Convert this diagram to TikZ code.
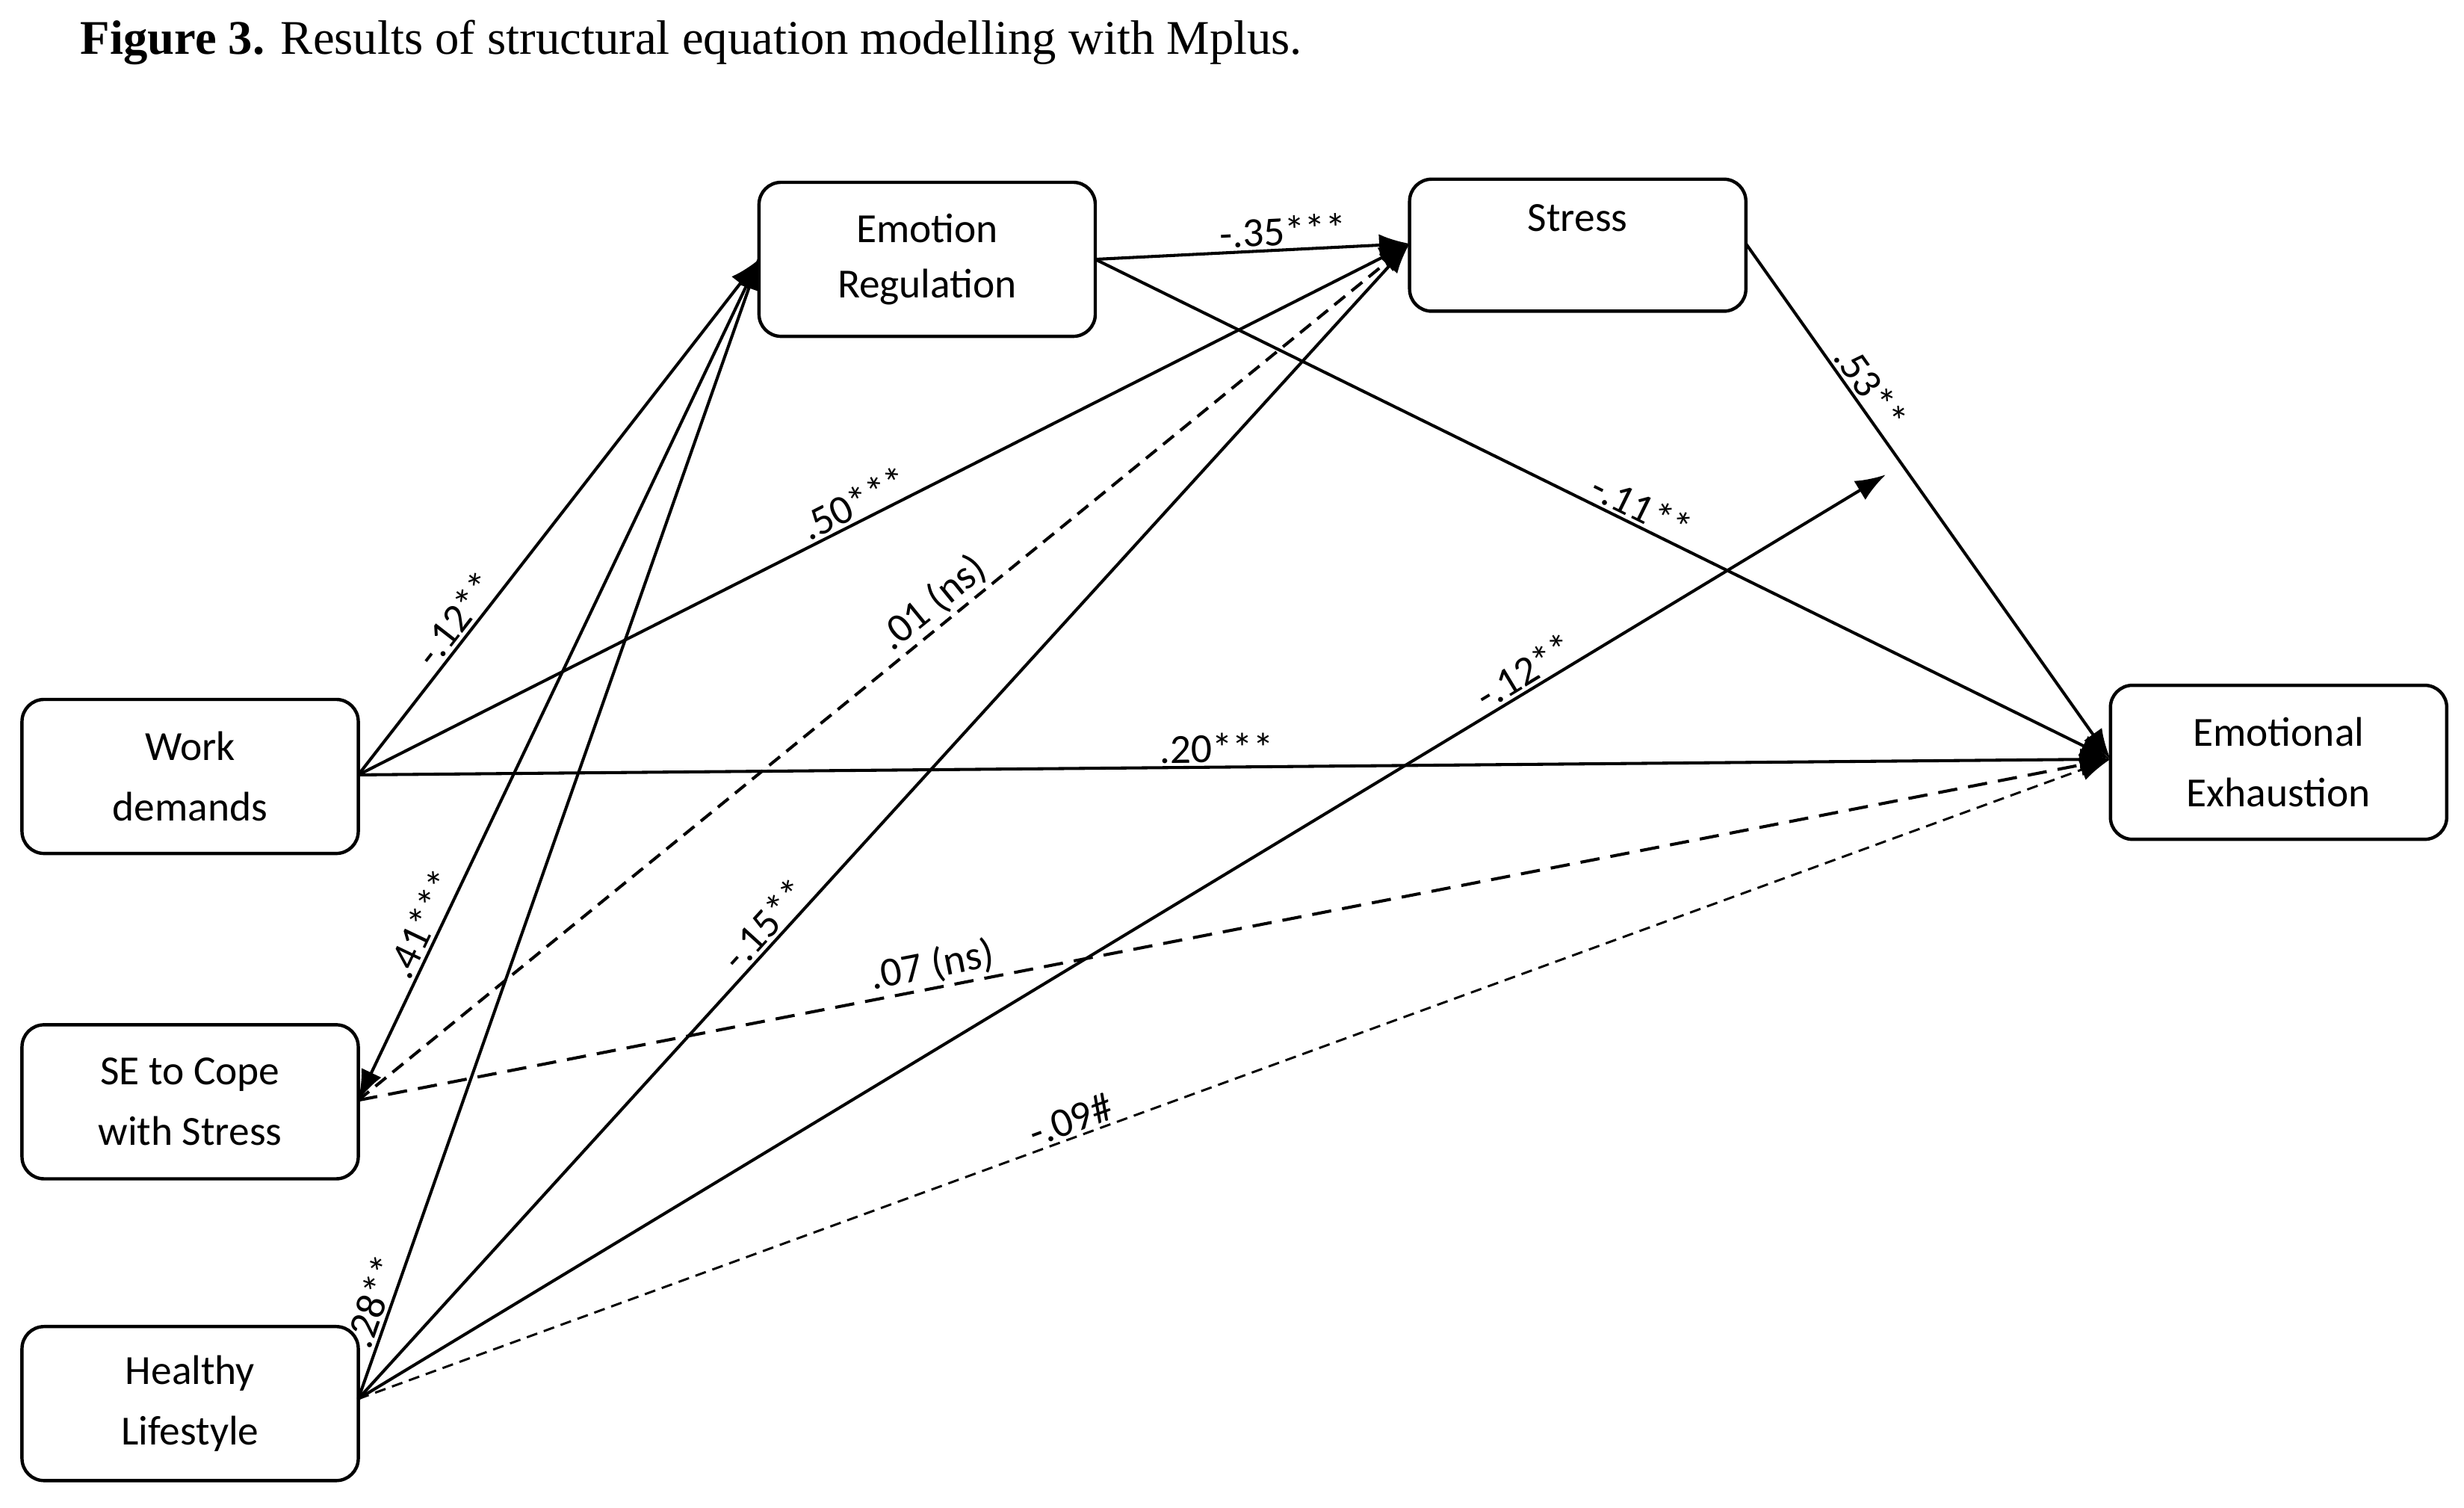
\documentclass[tikz,border=0pt]{standalone}
\usepackage{fontspec}
\setmainfont{Liberation Serif}
\newfontfamily\boxfont{Carlito}
\usetikzlibrary{arrows.meta}

\begin{document}
\begin{tikzpicture}[x=0.02cm, y=-0.02cm,
    var/.style={draw, line width=1.2pt, rounded corners=8pt, minimum width=214*0.02cm,
        minimum height=98*0.02cm, align=center, font=\boxfont\fontsize{15}{22}\selectfont},
    path/.style={line width=1.1pt, -{Latex[length=11pt, width=8pt]}},
    coef/.style={sloped, above, inner sep=1pt, font=\boxfont\fontsize{15}{18}\selectfont}]
    \useasboundingbox (0,0) rectangle (1568,959);

    % Titel
    \node[right, font=\fontsize{17.5}{20}\selectfont] (title) at (45,27)
        {\textbf{Figure 3.} Results of structural equation modelling with Mplus.};

    % Variablen
    \node[var] (er) at (590,165) {Emotion\\[-2pt]Regulation};
    \node[var, minimum height=84*0.02cm, text depth=20pt] (st) at (1004,156) {Stress};
    \node[var] (wd) at (121,494) {Work\\demands};
    \node[var] (se) at (121,701) {SE to Cope\\with Stress};
    \node[var] (hl) at (121,893) {Healthy\\Lifestyle};
    \node[var] (ee) at (1450,485) {Emotional\\Exhaustion};

    % Ankerpunkte
    \coordinate (wdR) at (228,493);
    \coordinate (seR) at (228,700);
    \coordinate (hlR) at (228,890);
    \coordinate (erL) at (483,165);
    \coordinate (erR) at (697,165);
    \coordinate (stL) at (897,155);
    \coordinate (stR) at (1111,155);
    \coordinate (eeL) at (1343,483);
    \coordinate (free) at (1200,302);

    % Pfade Work demands
    \draw[path] (wdR) -- node[coef, pos=0.28] {-.12**} (erL);
    \draw[path] (wdR) -- node[coef, pos=0.48] {.50***} (stL);
    \draw[path] (wdR) -- node[coef, pos=0.49] {.20***} (eeL);

    % Pfade Emotion Regulation / Stress
    \draw[path] (erR) -- node[coef, pos=0.6] {-.35***} (stL);
    \draw[path] (erR) -- node[coef, pos=0.53] {-.11**} (eeL);
    \draw[path] (stR) -- node[coef, pos=0.3] {.53**} (eeL);
    \draw[path] (erL) -- node[coef, pos=0.8] {.41***} (seR);

    % Pfade SE (gestrichelt)
    \draw[path, dash pattern=on 5pt off 3pt] (seR) -- node[coef, pos=0.56] {.01 (ns)} (stL);
    \draw[path, dash pattern=on 7pt off 4pt] (seR) -- node[coef, pos=0.33] {.07 (ns)} (eeL);

    % Pfade Healthy Lifestyle
    \draw[path] (hlR) -- node[coef, pos=0.08] {.28**} (erL);
    \draw[path] (hlR) -- node[coef, pos=0.4] {-.15**} (stL);
    \draw[path] (hlR) -- node[coef, pos=0.77] {-.12**} (free);
    \draw[path, line width=0.8pt, dash pattern=on 4pt off 2.5pt] (hlR) -- node[coef, pos=0.41] {-.09\#} (eeL);
\end{tikzpicture}
\end{document}
